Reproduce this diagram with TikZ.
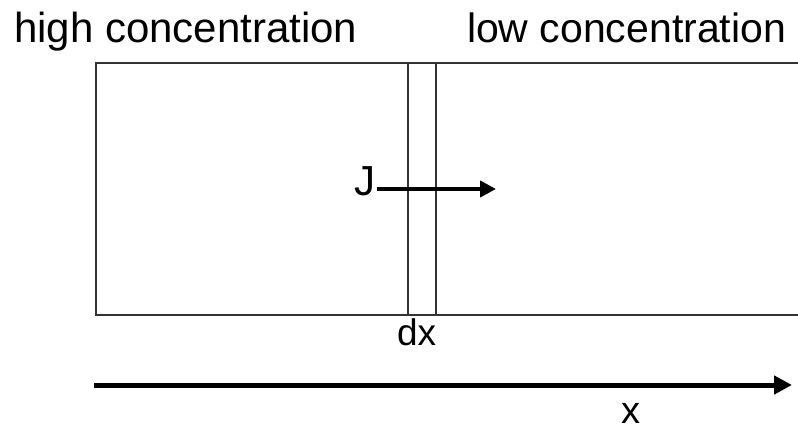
\documentclass[tikz,border=0pt]{standalone}
\usepackage{fontspec}
\setmainfont{Liberation Sans}
\usetikzlibrary{arrows.meta}
\begin{document}
\begin{tikzpicture}[x=1pt,y=-1pt,
  lbl/.style={inner sep=0pt, outer sep=0pt, anchor=base west, text=black},
  boxline/.style={draw=black!80, line width=2pt},
  flux/.style={draw=black, line width=4pt, -{Triangle[length=16pt,width=16pt]}},
  axis/.style={draw=black, line width=5pt, -{Triangle[length=18pt,width=18pt]}}]
\useasboundingbox (0,0) rectangle (798,430);
% box
\coordinate (tr) at (800,63);
\coordinate (tl) at (96,63);
\coordinate (bl) at (96,315);
\coordinate (br) at (800,315);
\draw[boxline] (tr) -- (tl) -- (bl) -- (br);
\coordinate (v1t) at (408,63);
\coordinate (v1b) at (408,315);
\coordinate (v2t) at (436,63);
\coordinate (v2b) at (436,315);
\draw[boxline] (v1t) -- (v1b);
\draw[boxline] (v2t) -- (v2b);
% labels
\node[lbl, font=\fontsize{42}{50}\selectfont] (high) at (14,43) {high concentration};
\node[lbl, font=\fontsize{41}{50}\selectfont] (low) at (467,43) {low concentration};
\node[lbl, font=\fontsize{42}{48}\selectfont] (J) at (354,196) {J};
\node[lbl, font=\fontsize{37}{44}\selectfont] (dx) at (397,345) {dx};
\node[lbl, font=\fontsize{38}{46}\selectfont] (xl) at (621,423) {x};
% flux arrow
\coordinate (jstart) at (377,189);
\coordinate (jend) at (496,189);
\draw[flux] (jstart) -- (jend);
% axis arrow
\coordinate (a0) at (94,385);
\coordinate (a1) at (792,385);
\draw[axis] (a0) -- (a1);
\end{tikzpicture}
\end{document}
